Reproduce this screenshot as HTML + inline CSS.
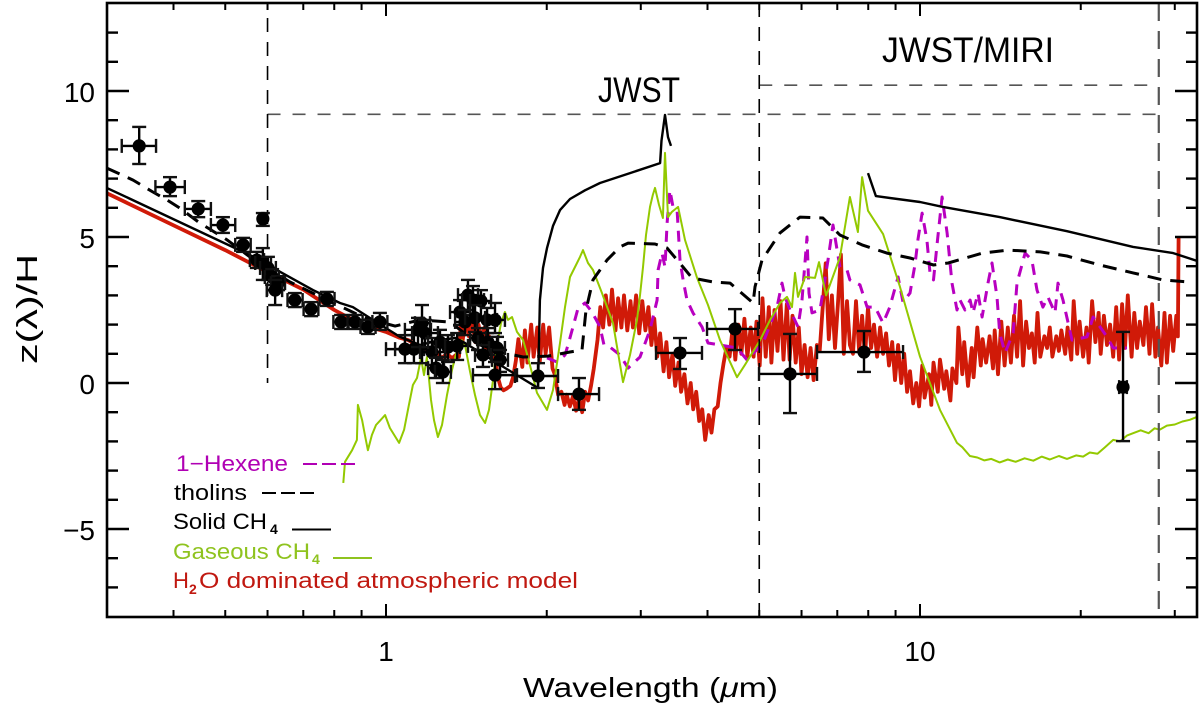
<!DOCTYPE html>
<html lang="en">
<head>
<meta charset="utf-8">
<title>z(λ)/H versus wavelength</title>
<style>
html,body{margin:0;padding:0;background:#fff;}
svg{display:block;}
text{font-family:"Liberation Sans",sans-serif;}
</style>
</head>
<body>
<svg id="chart" xmlns="http://www.w3.org/2000/svg" width="1200" height="707" viewBox="0 0 1200 707">
  <defs><clipPath id="plot-clip"><rect x="107" y="3" width="1090" height="614"/></clipPath></defs>
  <rect width="1200" height="707" fill="#fff"/>
  <g id="series" clip-path="url(#plot-clip)"></g>
  <g id="guides"></g>
  <g id="points"></g>
  <g id="ticks"></g>
  <rect x="107" y="3" width="1090" height="614" fill="none" stroke="#000" stroke-width="2.6"/>
  <g id="tick-labels" font-size="28" fill="#000"></g>
  <text x="523" y="697" font-size="28" textLength="255" lengthAdjust="spacingAndGlyphs">Wavelength (<tspan font-style="italic">μ</tspan>m)</text>
  <text transform="translate(37,364) rotate(-90)" font-size="29" textLength="110" lengthAdjust="spacingAndGlyphs">z(λ)/H</text>
  <text x="598" y="102" font-size="35" textLength="82" lengthAdjust="spacingAndGlyphs">JWST</text>
  <text x="882" y="62" font-size="35" textLength="172" lengthAdjust="spacingAndGlyphs">JWST/MIRI</text>
  <g font-size="22">
    <g>
      <text x="176" y="471" fill="#b000b4" textLength="112" lengthAdjust="spacingAndGlyphs">1−Hexene</text>
      <line x1="303" y1="464" x2="355" y2="464" stroke="#b000b4" stroke-width="2" stroke-dasharray="14 5"/>
    </g>
    <g>
      <text x="174" y="500" fill="#000" textLength="73" lengthAdjust="spacingAndGlyphs">tholins</text>
      <line x1="262" y1="493" x2="315" y2="493" stroke="#000" stroke-width="2" stroke-dasharray="14 5"/>
    </g>
    <g>
      <text x="173" y="529" fill="#000" textLength="94" lengthAdjust="spacingAndGlyphs">Solid CH</text>
      <text x="270" y="534" fill="#000" font-size="14" font-weight="bold">4</text>
      <line x1="292" y1="529.5" x2="331" y2="529.5" stroke="#000" stroke-width="2"/>
    </g>
    <g>
      <text x="173" y="559" fill="#8fc31f" textLength="137" lengthAdjust="spacingAndGlyphs">Gaseous CH</text>
      <text x="312" y="564" fill="#8fc31f" font-size="14" font-weight="bold">4</text>
      <line x1="333" y1="558" x2="372" y2="558" stroke="#8fc31f" stroke-width="2"/>
    </g>
    <g>
      <text x="173" y="588" fill="#c01810">H</text>
      <text x="189" y="594" fill="#c01810" font-size="14" font-weight="bold">2</text>
      <text x="199" y="588" fill="#c01810" textLength="379" lengthAdjust="spacingAndGlyphs">O dominated atmospheric model</text>
    </g>
  </g>
</svg>
<script>
// ---------- axis configuration values ----------
var xMajorTicks = [1, 10];
var xMinorTicks = [0.4, 0.5, 0.6, 0.7, 0.8, 0.9, 2, 3, 4, 5, 6, 7, 8, 9, 20, 30];
var yMajorTicks = [-5, 0, 5, 10];
var yMinorTicks = [-7, -6, -4, -3, -2, -1, 1, 2, 3, 4, 6, 7, 8, 9, 11, 12];
var xTickLabels = ["1", "10"];
var yTickLabels = ["−5", "0", "5", "10"];

// ---------- series: H2O dominated atmospheric model ----------
var redWave = [
0.3,0.4,0.5,0.6,0.7,0.8,0.9,1,1.06,1.1,
1.2,1.25,1.27,1.3,1.33,1.36,1.37,1.38,1.39,1.41,
1.43,1.45,1.47,1.49,1.51,1.53,1.54,1.56,1.58,1.6,1.62,
1.64,1.66,1.68,1.71,1.73,1.75,1.77,1.80,1.82,1.84,
1.87,1.89,1.92,1.94,1.97,1.99,2.02,2.05,2.07,2.10,
2.13,2.16,2.18,2.21,2.24,2.27,2.30,2.33,2.36,2.39,
2.42,2.45,2.49,2.52,2.55,2.58,2.62,2.65,2.69,2.72,
2.76,2.79,2.83,2.87,2.90,2.94,2.98,3.02,3.06,3.10,
3.14,3.18,3.22,3.26,3.31,3.35,3.39,3.44,3.48,3.53,
3.57,3.62,3.67,3.72,3.76,3.81,3.86,3.91,3.96,4.02,
4.07,4.12,4.18,4.23,4.29,4.34,4.40,4.46,4.51,4.57,
4.63,4.69,4.75,4.82,4.88,4.94,5.01,5.07,5.14,5.21,
5.27,5.34,5.41,5.48,5.55,5.63,5.70,5.77,5.85,5.93,
6.00,6.08,6.16,6.24,6.32,6.41,6.49,6.58,6.66,6.75,
6.84,6.93,7.02,7.11,7.20,7.30,7.39,7.49,7.59,7.69,
7.79,7.89,7.99,8.10,8.20,8.31,8.42,8.53,8.64,8.75,
8.87,8.98,9.10,9.22,9.34,9.46,9.58,9.71,9.84,9.96,
10.1,10.2,10.4,10.5,10.6,10.8,10.9,11.1,11.2,11.4,
11.5,11.7,11.8,12.0,12.1,12.3,12.5,12.6,12.8,13.0,
13.1,13.3,13.5,13.7,13.8,14.0,14.2,14.4,14.6,14.8,
15.0,15.2,15.4,15.6,15.8,16.0,16.2,16.4,16.6,16.8,
17.1,17.3,17.5,17.7,18.0,18.2,18.4,18.7,18.9,19.2,
19.4,19.7,19.9,20.2,20.5,20.7,21.0,21.3,21.6,21.8,
22.1,22.4,22.7,23.0,23.3,23.6,23.9,24.2,24.5,24.9,
25.2,25.5,25.8,26.2,26.5,26.9,27.2,27.6,27.9,28.3,
28.7,29.0,29.4,29.8,30.2,30.4,30.5
];
var redZ = [
6.5,5.4,4.55,3.8,3.2,2.5,2.0,1.75,1.55,1.47,
1.1,1.05,0.85,1.0,0.85,1.0,0.9,2.0,1.4,2.2,
1.6,2.1,1.4,2.0,1.5,1.9,1.1,1.6,0.8,0.9,0.2,
-0.15,-0.25,-0.2,-0.1,0.2,0.75,1.5,0.55,1.8,0.7,
2.0,0.9,1.9,0.7,2.0,1.0,1.9,0.5,0.3,-0.4,
-0.3,-0.75,-0.4,-0.8,-0.45,-0.95,-0.5,-1.0,-0.3,-0.6,
-0.1,0.5,1.5,2.6,1.9,3.0,2.0,3.2,1.8,2.9,
1.9,3.0,1.8,2.8,1.9,3.0,1.7,2.8,1.8,2.6,
1.3,2.2,0.9,1.7,0.4,1.4,0.2,1.0,-0.1,0.7,
-0.3,0.3,-0.7,0.0,-0.9,-0.3,-1.3,-0.9,-1.95,-1.1,
-1.7,-0.9,-0.8,0.0,0.7,1.2,0.9,1.9,0.8,2.0,
1.0,2.2,0.9,1.9,0.9,2.1,0.6,2.9,0.9,2.6,
0.7,2.5,1.1,2.8,0.8,2.7,0.8,2.3,0.7,1.9,
0.3,1.3,0.2,1.2,0.1,1.3,1.1,2.7,4.1,1.5,
3.0,1.2,2.7,4.4,1.0,2.8,1.3,1.0,2.8,1.1,
2.3,0.9,2.6,1.2,2.0,0.9,1.9,1.0,1.7,0.6,
1.4,0.1,1.3,0.0,1.0,-0.3,0.4,-0.7,0.0,-0.8,
0.6,-0.5,0.3,-0.75,0.7,-0.3,0.8,-0.2,0.4,-0.6,
0.5,0.0,1.9,0.3,1.4,-0.1,1.2,0.2,1.9,0.6,
1.5,0.7,1.6,0.5,1.8,0.3,2.1,0.6,1.9,0.7,
2.3,0.9,2.8,0.6,2.1,1.2,1.7,0.7,2.4,0.9,
1.6,1.2,1.9,0.9,1.6,1.1,1.8,1.0,1.9,0.8,
2.8,1.0,2.1,0.9,1.9,0.7,2.8,1.4,2.4,1.0,
2.3,1.3,2.0,0.9,2.6,0.8,2.7,1.2,3.0,0.9,
2.4,1.2,2.1,1.3,2.6,1.0,2.7,0.9,1.9,0.6,
2.4,0.7,2.3,1.1,2.3,1.6,5.0
];

// ---------- series: Gaseous CH4 ----------
var greenWave = [
0.832,0.838,0.864,0.882,0.886,0.902,0.913,0.925,0.941,0.958,
0.996,1.017,1.058,1.081,1.104,1.123,1.143,1.163,1.178,1.193,
1.214,1.230,1.251,1.273,1.301,1.329,1.359,1.388,1.406,1.437,
1.468,1.5,1.533,1.559,1.586,1.614,1.642,1.670,1.692,1.722,
1.759,1.806,1.844,1.918,2.002,2.055,2.118,2.164,2.211,2.279,
2.308,2.338,2.389,2.441,2.538,2.661,2.779,2.864,2.951,2.99,
3.029,3.068,3.122,3.16,3.19,3.245,3.30,3.33,3.374,3.431,
3.523,3.63,3.824,4.009,4.222,4.543,4.70,5.018,5.24,5.468,
5.636,5.759,5.834,5.91,6.09,6.36,6.47,6.67,7.08,7.39,
7.65,7.79,7.99,8.53,9.17,10.0,10.9,11.73,12.0,12.4,
12.8,13.2,13.6,14.1,14.6,15.1,15.7,16.3,16.9,17.5,
18.2,18.85,19.6,20.2,20.8,21.5,22.2,23.0,23.7,24.4,
25.06,25.9,26.8,27.5,28.1,29.0,30.0,31.0,32.0,33.0
];
var greenZ = [
-3.42,-2.7,-2.3,-1.95,-0.75,-1.27,-1.78,-2.3,-1.78,-1.44,
-1.1,-1.54,-2.05,-1.6,-0.75,-0.07,0.17,0.86,0.27,0.89,
-0.58,-1.27,-1.85,-1.44,-0.41,0.45,1.13,1.47,1.3,0.38,
-0.41,-1.1,-1.37,-0.92,0.1,1.3,2.05,2.43,2.16,2.26,
1.75,1.47,0.89,-0.34,-0.92,-0.24,1.37,2.6,3.63,4.11,
4.32,4.55,4.11,3.87,3.08,2.05,0.03,0.96,2.16,3.0,
3.97,5.07,6.03,6.44,6.68,6.1,5.65,7.88,5.68,5.86,
6.03,4.9,3.6,2.67,1.47,0.2,0.62,1.47,2.16,2.74,
2.95,2.6,3.77,2.95,3.63,3.6,4.14,3.0,4.3,6.37,
5.17,7.05,5.9,5.1,3.3,0.9,-0.92,-2.05,-2.2,-2.5,
-2.55,-2.65,-2.6,-2.72,-2.62,-2.7,-2.58,-2.66,-2.52,-2.62,
-2.5,-2.6,-2.48,-2.52,-2.38,-2.42,-2.2,-1.95,-2.0,-1.8,
-1.72,-1.62,-1.72,-1.55,-1.6,-1.46,-1.42,-1.32,-1.26,-1.16
];

// ---------- series: Solid CH4 (two sections) ----------
var solidWaveA = [0.3,0.556,0.73,0.82,0.867,0.945,1.062,1.158,1.262,1.347,1.406,1.635,1.926,1.942,1.968,2.002,2.055,2.118,2.211,2.359,2.516,2.864,3.26,3.28,3.33,3.374,3.418];
var solidZA = [6.68,4.38,3.18,2.74,2.6,2.16,1.58,1.3,1.47,1.54,1.37,0.62,-0.17,2.84,3.94,4.62,5.38,5.92,6.3,6.6,6.85,7.19,7.53,8.3,9.18,8.42,8.12];
var solidWaveB = [7.99,8.27,10,11.04,14.1,18.85,25.06,29.8,33];
var solidZB = [7.19,6.4,6.2,6.03,5.68,5.2,4.66,4.45,4.18];

// ---------- series: tholins ----------
var tholinWave = [0.3,0.336,0.366,0.389,0.411,0.448,0.504,0.556,0.661,0.796,0.913,1.04,1.158,1.318,1.5,1.635,1.806,2.01,2.211,2.328,2.369,2.441,2.593,2.743,2.84,3.19,3.36,3.6,3.74,4.1,4.41,4.87,4.91,5.06,5.468,5.96,6.58,7.08,7.79,8.67,9.58,10.6,11.3,13.1,14.6,16.8,18.85,21.7,25.06,28.5,31.8];
var tholinZ = [7.36,6.95,6.54,6.27,5.99,5.48,4.9,4.32,3.46,2.74,2.23,1.95,2.16,2.09,1.3,1.06,0.89,0.92,1.06,1.13,2.5,3.53,4.21,4.66,4.79,4.76,4.62,3.97,3.6,3.46,3.42,2.74,3.29,4.21,5.14,5.68,5.65,5.07,4.73,4.45,4.28,4.04,4.11,4.45,4.55,4.49,4.35,4.04,3.77,3.53,3.46];

// ---------- series: 1-Hexene ----------
var hexeneWave = [
2.002,2.09,2.164,2.192,2.24,2.289,2.359,2.431,2.516,2.56,2.627,2.743,2.84,2.99,3.122,3.218,3.232,3.288,3.33,3.36,
3.402,3.447,3.508,3.553,3.6,3.662,3.758,3.906,4.009,4.222,4.543,4.742,5.082,5.398,5.515,5.587,5.709,5.91,6.012,6.143,
6.197,6.278,6.497,6.725,6.873,7.08,7.30,7.39,7.72,7.96,8.24,8.53,8.78,9.10,9.295,9.58,9.79,9.91,10.09,10.3,
10.44,10.6,10.76,11.0,11.24,11.48,11.73,11.88,12.14,12.41,12.57,12.84,13.07,13.41,13.64,13.94,14.1,14.43,14.94,15.19,
15.73,16.2,16.56,16.99,17.36,17.9,18.13,18.53,19.26,20.55,21.09,22.4,23.0,24.4
];
var hexeneZ = [
0.86,0.72,0.96,1.30,1.92,2.57,2.74,2.43,1.92,1.30,1.23,0.96,0.51,0.89,1.82,2.84,3.87,4.45,3.97,5.48,
6.61,6.03,5.92,4.21,3.53,2.84,2.40,1.92,1.37,1.30,1.20,0.79,1.37,2.60,3.42,2.95,2.50,1.92,2.84,5.0,
3.08,2.40,2.50,4.21,5.41,3.97,3.87,3.53,3.36,2.60,2.60,2.05,2.60,3.63,2.77,3.08,4.08,4.90,5.82,4.90,
3.77,3.53,4.73,6.37,5.14,3.42,2.50,2.84,2.50,2.84,2.40,3.08,2.26,3.42,4.11,2.95,1.71,1.03,1.71,3.42,
4.45,4.21,3.18,2.60,2.95,2.40,3.42,2.84,1.47,1.58,2.26,1.58,1.20,1.20
];

// ---------- measured points with error limits ----------
var pointWave = [0.345,0.394,0.445,0.495,0.540,0.588,0.573,0.588,0.601,0.612,0.628,0.620,0.675,0.724,0.775,0.824,0.875,0.925,0.974,1.085,1.128,1.168,1.148,1.183,1.219,1.262,1.306,1.359,1.241,1.278,1.376,1.424,1.455,1.506,1.406,1.468,1.546,1.600,1.487,1.552,1.614,1.519,1.635,1.600,1.926,2.298,3.553,4.504,5.709,7.855,24.0];
var pointWaveLow = [0.320,0.370,0.420,0.470,0.522,0.586,0.556,0.569,0.581,0.593,0.609,0.598,0.654,0.701,0.751,0.797,0.847,0.896,0.943,1.0,1.040,1.133,1.085,1.119,1.158,1.199,1.241,1.290,1.199,1.235,1.318,1.364,1.388,1.437,1.347,1.406,1.481,1.533,1.437,1.487,1.559,1.468,1.579,1.455,1.744,2.100,3.204,3.992,4.995,6.415,23.6];
var pointWaveHigh = [0.371,0.420,0.470,0.522,0.558,0.591,0.591,0.609,0.622,0.630,0.647,0.639,0.698,0.747,0.801,0.851,0.904,0.956,1.006,1.178,1.225,1.209,1.214,1.251,1.290,1.329,1.376,1.424,1.284,1.323,1.437,1.487,1.526,1.573,1.468,1.533,1.614,1.670,1.539,1.621,1.670,1.573,1.692,1.759,2.100,2.506,3.906,4.974,6.415,9.295,24.4];
var pointZ = [8.12,6.71,5.96,5.41,4.73,5.62,4.21,4.11,3.94,3.63,3.42,3.18,2.84,2.53,2.88,2.09,2.09,1.92,2.09,1.16,1.16,2.05,1.82,1.71,1.06,1.40,1.23,1.27,0.51,0.38,2.43,3.01,2.84,2.81,2.09,2.23,2.16,2.16,1.54,1.40,1.20,0.96,0.79,0.27,0.24,-0.38,1.03,1.85,0.31,1.06,-0.14];
var pointZLow = [7.50,6.40,5.68,5.14,4.49,5.38,3.94,3.53,3.53,3.36,3.18,2.67,2.60,2.29,2.64,1.85,1.85,1.68,1.82,0.68,0.68,0.68,1.23,1.23,0.62,0.89,0.72,0.79,0.17,0.0,1.99,2.50,2.33,2.16,1.64,1.75,1.71,1.71,1.13,0.96,0.79,0.55,0.38,-0.21,-0.17,-0.92,0.48,1.13,-1.03,0.38,-1.99];
var pointZHigh = [8.77,7.05,6.23,5.68,4.97,5.82,4.49,4.62,4.32,3.90,3.66,3.53,3.08,2.77,3.12,2.33,2.33,2.16,2.40,1.64,1.64,2.67,2.23,2.16,1.54,1.82,1.64,1.71,0.86,0.79,2.84,3.53,3.32,3.18,2.50,2.67,2.57,2.74,1.88,1.88,1.58,1.30,1.13,0.72,0.68,0.17,1.54,2.53,1.68,1.78,1.75];

// ---------- guide values ----------
var nirGuideZ = 9.2;
var miriGuideZ = 10.2;
var guideWaveStart = 0.6;
var guideWaveMid = 5;
var guideWaveEnd = 28;

// ---------- axis functions ----------
function xScale(w){ return 386 + 534 * Math.log10(w); }
function yScale(z){ return 383 - 29.2 * z; }
var NS = 'http://www.w3.org/2000/svg';
function make(tag, parent){
  var e = document.createElementNS(NS, tag);
  parent.appendChild(e);
  return e;
}
function linePath(ws, zs){
  var d = '';
  for (var i = 0; i < ws.length && i < zs.length; i++){
    d += (i ? 'L' : 'M') + xScale(ws[i]).toFixed(1) + ' ' + yScale(zs[i]).toFixed(1);
  }
  return d;
}
function segment(parent, x1, y1, x2, y2, color, width, dash){
  var l = make('line', parent);
  l.setAttribute('x1', x1); l.setAttribute('y1', y1);
  l.setAttribute('x2', x2); l.setAttribute('y2', y2);
  l.setAttribute('stroke', color); l.setAttribute('stroke-width', width);
  if (dash) l.setAttribute('stroke-dasharray', dash);
  return l;
}
function styleSeries(p, color, width, dash){
  p.setAttribute('fill', 'none');
  p.setAttribute('stroke', color);
  p.setAttribute('stroke-width', width);
  p.setAttribute('stroke-linejoin', 'round');
  if (dash) p.setAttribute('stroke-dasharray', dash);
}

// ---------- series ----------
var seriesLayer = document.getElementById('series');

var redPath = make('path', seriesLayer);


redPath.setAttribute('d', linePath(redWave, redZ));
styleSeries(redPath, '#d01a08', 3.8);

var hexenePath = make('path', seriesLayer);


hexenePath.setAttribute('d', linePath(hexeneWave, hexeneZ));
styleSeries(hexenePath, '#b800c0', 3, '11 8');

var greenPath = make('path', seriesLayer);


greenPath.setAttribute('d', linePath(greenWave, greenZ));
styleSeries(greenPath, '#93c900', 2);

var solidPathA = make('path', seriesLayer);


solidPathA.setAttribute('d', linePath(solidWaveA, solidZA));
styleSeries(solidPathA, '#000', 2.4);

var solidPathB = make('path', seriesLayer);


solidPathB.setAttribute('d', linePath(solidWaveB, solidZB));
styleSeries(solidPathB, '#000', 2.4);

var tholinPath = make('path', seriesLayer);


tholinPath.setAttribute('d', linePath(tholinWave, tholinZ));
styleSeries(tholinPath, '#000', 3, '14 9');

// ---------- guides ----------
var guides = document.getElementById('guides');
var g1 = segment(guides, xScale(guideWaveStart), yScale(nirGuideZ), xScale(guideWaveEnd), yScale(nirGuideZ), '#555', 1.6, '13 12');


var g2 = segment(guides, xScale(guideWaveMid), yScale(miriGuideZ), xScale(guideWaveEnd), yScale(miriGuideZ), '#555', 1.6, '13 12');


var g3 = segment(guides, xScale(guideWaveStart), 18, xScale(guideWaveStart), yScale(0), '#000', 1.6, '14 10');


var g4 = segment(guides, xScale(guideWaveMid), 3, xScale(guideWaveMid), 617, '#000', 1.6, '14 10');


var g5 = segment(guides, xScale(guideWaveEnd), 3, xScale(guideWaveEnd), 617, '#555', 2.2, '18 10');



// ---------- points ----------
var pointLayer = document.getElementById('points');
var capHalf = 7;
for (var i = 0; i < pointWave.length; i++){
  var pg = make('g', pointLayer);
  
  
  var cx = xScale(pointWave[i]), cy = yScale(pointZ[i]);
  var xl = xScale(pointWaveLow[i]), xh = xScale(pointWaveHigh[i]);
  var yl = yScale(pointZLow[i]), yh = yScale(pointZHigh[i]);
  segment(pg, xl, cy, xh, cy, '#000', 2.4);
  segment(pg, cx, yl, cx, yh, '#000', 2.4);
  segment(pg, xl, cy - capHalf, xl, cy + capHalf, '#111', 2.4);
  segment(pg, xh, cy - capHalf, xh, cy + capHalf, '#111', 2.4);
  segment(pg, cx - capHalf, yl, cx + capHalf, yl, '#111', 2.4);
  segment(pg, cx - capHalf, yh, cx + capHalf, yh, '#111', 2.4);
  var dot = make('circle', pg);
  dot.setAttribute('cx', cx);
  dot.setAttribute('cy', cy);
  dot.setAttribute('r', 6.6);
  dot.setAttribute('fill', '#000');
}

// ---------- ticks ----------
var tickLayer = document.getElementById('ticks');
function xTick(w, len, name){
  var x = xScale(w);
  var b = segment(tickLayer, x, 617, x, 617 - len, '#000', 2);
  
  
  var t = segment(tickLayer, x, 3, x, 3 + len, '#000', 2);
  
  
}
function yTick(z, len, name){
  var y = yScale(z);
  var l = segment(tickLayer, 107, y, 107 + len, y, '#000', 2.4);
  
  
  var r = segment(tickLayer, 1197, y, 1197 - len, y, '#000', 2.4);
  
  
}
xMajorTicks.forEach(function(w){ xTick(w, 13, 'x-major-tick'); });
xMinorTicks.forEach(function(w){ xTick(w, 7, 'x-minor-tick'); });
yMajorTicks.forEach(function(z){ yTick(z, 22, 'y-major-tick'); });
yMinorTicks.forEach(function(z){ yTick(z, 11, 'y-minor-tick'); });

// ---------- tick labels ----------
var labelLayer = document.getElementById('tick-labels');
xMajorTicks.forEach(function(w, k){
  var t = make('text', labelLayer);
  
  
  t.setAttribute('x', xScale(w));
  t.setAttribute('y', 661);
  t.setAttribute('text-anchor', 'middle');
  t.textContent = xTickLabels[k];
});
yMajorTicks.forEach(function(z, k){
  var t = make('text', labelLayer);
  
  
  t.setAttribute('x', 95);
  t.setAttribute('y', yScale(z) + 11);
  t.setAttribute('text-anchor', 'end');
  t.textContent = yTickLabels[k];
});
</script>
</body>
</html>
